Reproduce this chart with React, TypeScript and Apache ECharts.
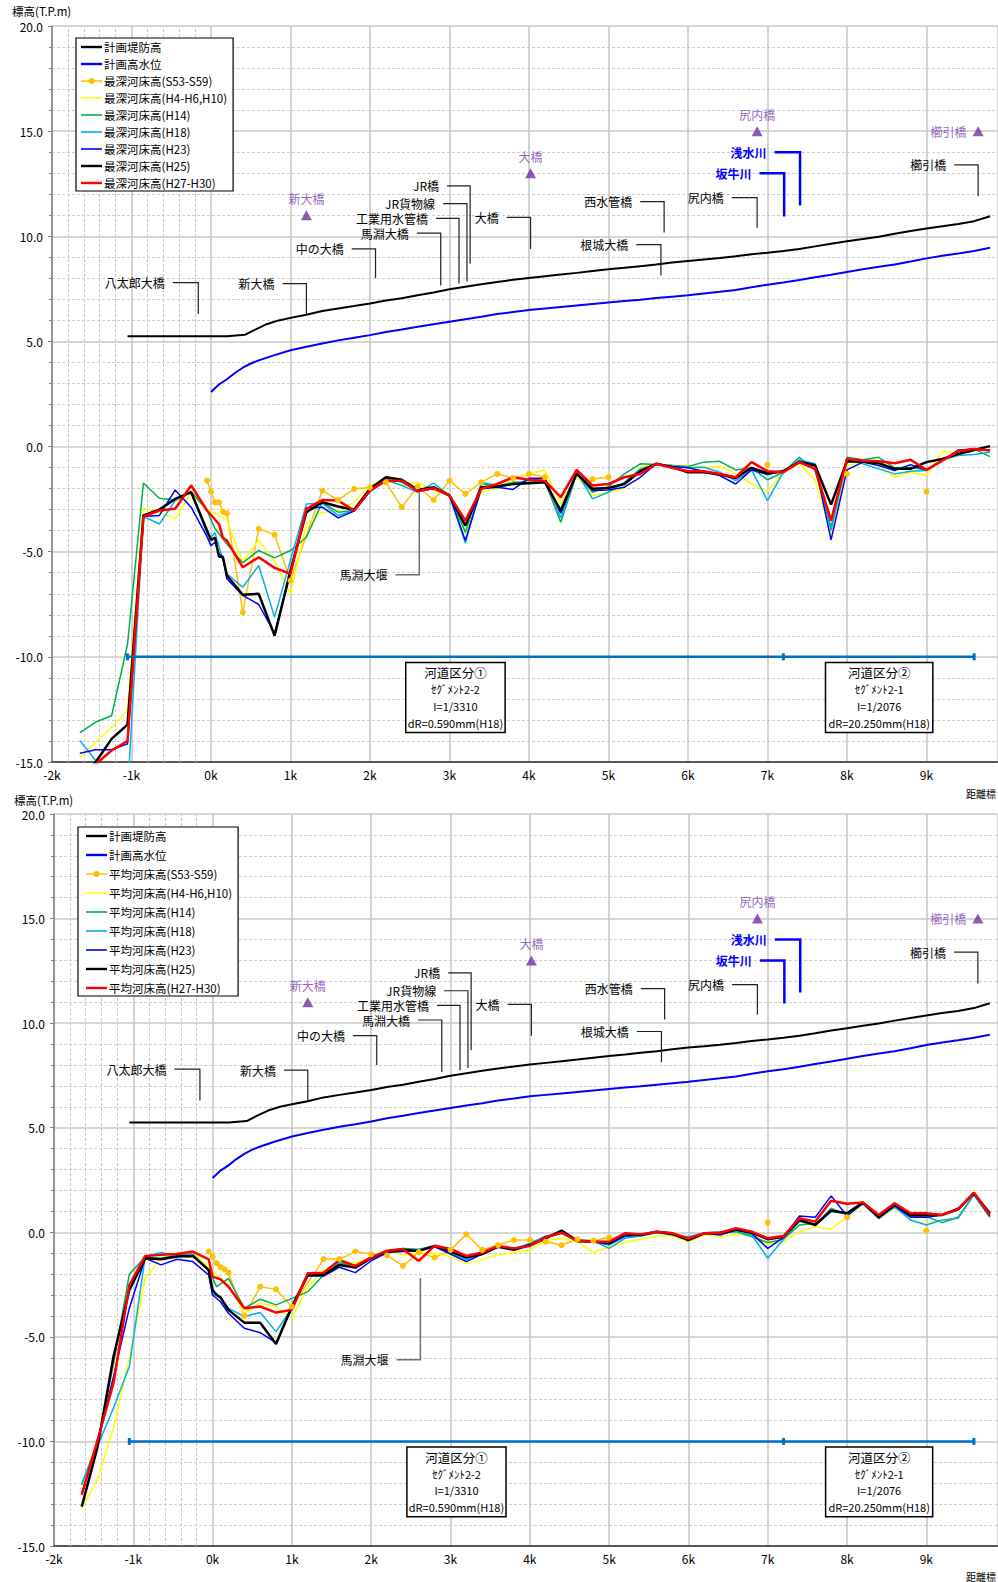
import React, { useEffect, useRef } from 'react';
import * as echarts from 'echarts';

// Cross-section chainage (km) shared by the bed profiles
const DIST = [-1.65, -1.45, -1.25, -1.05, -0.85, -0.65, -0.45, -0.25, -0.05, 0, 0.05, 0.1, 0.15, 0.2, 0.4, 0.6, 0.8, 1.0, 1.2, 1.4, 1.6, 1.8, 2.0, 2.2, 2.4, 2.6, 2.8, 3.0, 3.2, 3.4, 3.6, 3.8, 4.0, 4.2, 4.4, 4.6, 4.8, 5.0, 5.2, 5.4, 5.6, 5.8, 6.0, 6.2, 6.4, 6.6, 6.8, 7.0, 7.2, 7.4, 7.6, 7.8, 8.0, 8.2, 8.4, 8.6, 8.8, 9.0, 9.2, 9.4, 9.6, 9.8];

// Planned levee crown height
const LEVEE_X = [-1.05, -0.8, -0.6, -0.4, -0.2, 0, 0.2, 0.43, 0.55, 0.7, 0.85, 1.0, 1.2, 1.4, 1.6, 1.8, 2.0, 2.2, 2.4, 2.6, 2.8, 3.0, 3.2, 3.4, 3.6, 3.8, 4.0, 4.2, 4.4, 4.6, 4.8, 5.0, 5.2, 5.4, 5.6, 5.8, 6.0, 6.2, 6.4, 6.6, 6.8, 7.0, 7.2, 7.4, 7.6, 7.8, 8.0, 8.2, 8.4, 8.6, 8.8, 9.0, 9.2, 9.4, 9.6, 9.8];
const LEVEE_Y = [5.25, 5.25, 5.25, 5.25, 5.25, 5.25, 5.25, 5.32, 5.55, 5.82, 6.0, 6.12, 6.27, 6.45, 6.57, 6.68, 6.8, 6.95, 7.05, 7.2, 7.33, 7.48, 7.6, 7.72, 7.83, 7.93, 8.02, 8.1, 8.18, 8.26, 8.35, 8.43, 8.5, 8.58, 8.66, 8.75, 8.83, 8.9, 8.97, 9.05, 9.15, 9.22, 9.3, 9.4, 9.52, 9.65, 9.76, 9.87, 9.98, 10.12, 10.25, 10.37, 10.48, 10.58, 10.72, 10.95];

// Planned high water level
const HWL_X = [0, 0.1, 0.2, 0.3, 0.4, 0.5, 0.6, 0.8, 1.0, 1.2, 1.4, 1.6, 1.8, 2.0, 2.2, 2.4, 2.6, 2.8, 3.0, 3.2, 3.4, 3.6, 3.8, 4.0, 4.2, 4.4, 4.6, 4.8, 5.0, 5.2, 5.4, 5.6, 5.8, 6.0, 6.2, 6.4, 6.6, 6.8, 7.0, 7.2, 7.4, 7.6, 7.8, 8.0, 8.2, 8.4, 8.6, 8.8, 9.0, 9.2, 9.4, 9.6, 9.8];
const HWL_Y = [2.6, 2.95, 3.2, 3.5, 3.75, 3.95, 4.1, 4.35, 4.58, 4.75, 4.9, 5.05, 5.17, 5.3, 5.45, 5.57, 5.7, 5.82, 5.94, 6.06, 6.17, 6.3, 6.4, 6.5, 6.57, 6.64, 6.71, 6.78, 6.85, 6.92, 6.98, 7.06, 7.13, 7.2, 7.28, 7.36, 7.45, 7.58, 7.7, 7.8, 7.92, 8.05, 8.17, 8.3, 8.43, 8.55, 8.66, 8.8, 8.95, 9.07, 9.18, 9.3, 9.45];

// S53-S59 survey (own chainage, gaps as null)
const S53_X = [-0.05, 0, 0.05, 0.1, 0.15, 0.2, 0.4, 0.6, 0.8, 1.0, 1.4, 1.6, 1.8, 2.0, 2.2, 2.4, 2.6, 2.8, 3.0, 3.2, 3.4, 3.6, 3.8, 4.0, 4.2, 4.4, 4.6, 4.8, 5.0, 5.2, 7.0, 7.2, 8.0, 8.2, 9.0];
const DEEP_S53 = [-1.62, -2.14, -2.65, -2.65, -3.09, -3.17, -7.88, -3.91, -4.2, -6.37, -2.09, -2.55, -2.01, -1.95, -1.7, -2.88, -1.9, -2.54, -1.62, -2.25, -1.7, -1.3, -1.5, -1.3, -1.45, null, null, -1.55, -1.45, null, -0.87, null, -1.3, null, -2.14];
const MEAN_S53 = [-0.92, -1.16, -1.48, -1.67, -1.77, -1.93, -4.0, -2.6, -2.73, -3.55, -1.28, -1.28, -0.92, -1.05, -1.1, -1.61, -0.95, -1.21, -0.84, -0.1, -0.84, -0.61, -0.37, -0.37, -0.45, -0.61, -0.33, -0.4, -0.24, null, 0.46, null, 0.72, null, 0.08];

// Deepest bed elevation (values aligned with DIST)
const DEEP_H4 = [
  -14.77, -14.06, -13.35, -12.55, -2.93, -3.12, -3.44, -2.17, -2.96, null,
  null, null, null, -3.5, -5.5, -4.45, -5.45, -7.0, -3.68, -3.12,
  -3.04, -2.65, -1.85, -1.62, -1.85, -1.7, -2.09, -2.33, -4.15, -2.17,
  -2.0, -1.54, -1.3, -1.11, -2.73, -1.43, -2.33, -2.17, -2.01, -0.98,
  -0.82, -0.9, -0.9, -0.98, -0.95, -1.3, -1.78, -2.12, -1.22, -0.82,
  -1.62, -4.15, -0.9, -0.74, -0.9, -1.46, -1.22, -1.38, -0.22, -0.32,
  -0.11, -0.19];
const DEEP_H14 = [
  -13.6, -13.1, -12.8, -9.4, -1.73, -2.46, -2.54, -2.14, -3.04, null,
  -3.9, null, null, -4.63, -5.53, -4.94, -5.29, -4.94, -4.31, -2.65,
  -3.12, -3.04, -2.09, -1.5, -1.7, -2.09, -1.93, -2.28, -4.07, -1.77,
  -1.9, -1.7, -1.7, -1.65, -3.6, -1.3, -2.17, -1.9, -1.3, -0.82,
  -0.85, -0.9, -0.95, -0.74, -0.7, -1.11, -1.01, -1.58, -1.22, -0.51,
  -1.14, -3.84, -0.51, -0.63, -0.51, -1.01, -0.98, -1.11, -0.63, -0.38,
  -0.11, -0.48];
const DEEP_H18 = [
  -13.98, -14.93, -15.6, -16.5, -3.32, -3.68, -2.57, -2.17, -4.15, -4.3,
  -4.1, null, null, -6.05, -6.69, -5.66, -8.11, -5.4, -2.73, -2.69,
  -3.28, -3.04, -2.09, -1.58, -1.85, -2.17, -1.74, -2.33, -4.6, -1.7,
  -1.85, -1.78, -1.58, -1.51, -3.39, -1.22, -2.49, -2.17, -1.7, -1.06,
  -0.85, -0.9, -1.01, -0.98, -1.22, -1.62, -1.11, -2.57, -1.22, -0.63,
  -0.82, -3.99, -0.63, -0.82, -1.06, -1.3, -1.17, -1.14, -0.63, -0.43,
  -0.38, -0.27];
const DEEP_H23 = [
  -14.58, -14.42, -14.42, -14.14, -3.33, -3.28, -2.06, -2.88, -4.28, -4.71,
  -4.55, -5.1, -5.23, -6.29, -7.08, -7.51, -8.87, -6.0, -2.92, -2.88,
  -3.39, -3.07, -2.14, -1.62, -1.62, -2.12, -2.01, -2.33, -4.47, -2.01,
  -1.93, -2.04, -1.51, -1.51, -3.17, -1.3, -2.09, -2.06, -1.93, -1.46,
  -0.82, -0.95, -1.01, -1.17, -1.38, -1.78, -1.11, -1.33, -1.17, -0.7,
  -0.86, -4.44, -1.11, -0.74, -0.9, -1.14, -0.86, -1.11, -0.67, -0.16,
  -0.11, -0.16];
const DEEP_H25 = [
  -15.8, -15.0, -13.9, -13.22, -3.28, -3.0, -2.49, -2.17, -3.99, -4.44,
  -4.34, -5.23, -5.26, -6.13, -7.05, -7.0, -8.99, -5.9, -3.12, -2.65,
  -2.85, -3.01, -2.01, -1.46, -1.58, -2.06, -1.93, -2.33, -3.76, -1.93,
  -1.9, -1.78, -1.74, -1.7, -3.04, -1.27, -2.01, -1.97, -1.78, -1.17,
  -0.82, -0.98, -1.22, -1.22, -1.33, -1.49, -1.01, -1.27, -1.17, -0.74,
  -0.9, -2.76, -0.7, -0.71, -0.79, -1.06, -1.06, -0.74, -0.59, -0.35,
  -0.16, 0.02];
const DEEP_H27 = [
  -15.8, -15.1, -14.45, -14.0, -3.33, -3.04, -2.96, -1.85, -3.04, null,
  null, -3.68, -4.34, -4.47, -5.74, -5.26, -5.77, -6.05, -2.96, -2.54,
  -2.57, -3.04, -2.09, -1.62, -1.62, -2.12, -1.97, -2.33, -3.52, -2.01,
  -1.78, -1.46, -1.58, -1.62, -2.41, -1.11, -1.85, -1.78, -1.46, -1.3,
  -0.82, -1.01, -1.17, -1.17, -1.3, -1.46, -0.74, -1.17, -1.22, -0.74,
  -1.06, -3.52, -0.59, -0.67, -0.7, -0.79, -0.63, -1.11, -0.67, -0.22,
  -0.11, -0.19];

// Mean bed elevation (values aligned with DIST)
const MEAN_H4 = [
  -13.2, -11.8, -9.37, -6.0, -2.2, -1.24, -1.08, -0.92, -1.67, null,
  null, null, null, -2.52, -3.87, -3.39, -3.55, -4.11, -2.6, -1.8,
  -1.56, -1.45, -1.24, -0.92, -1.08, -1.04, -1.0, -1.16, -1.51, -1.29,
  -1.08, -0.97, -0.84, -0.4, -0.29, -0.45, -0.96, -0.69, -0.49, -0.33,
  -0.18, -0.18, -0.45, -0.13, -0.21, -0.1, -0.13, -0.56, -0.45, 0.03,
  0.27, 0.14, 0.72, 1.36, 0.62, 1.15, 0.59, 0.4, 0.56, 0.67,
  1.83, 0.75];
const MEAN_H14 = [
  -12.08, -10.0, -6.3, -2.0, -1.2, -1.24, -1.08, -1.04, -1.8, null,
  -2.6, null, null, -2.2, -3.63, -3.2, -3.47, -3.16, -2.84, -2.04,
  -1.45, -1.67, -1.2, -0.88, -0.77, -0.81, -0.65, -0.92, -1.29, -1.0,
  -0.65, -0.81, -0.61, -0.24, -0.05, -0.4, -0.45, -0.61, -0.21, -0.13,
  0.03, -0.02, -0.33, -0.05, -0.02, 0.03, -0.21, -0.49, -0.33, 0.35,
  0.43, 0.99, 0.88, 1.39, 0.72, 1.2, 0.75, 0.75, 0.46, 0.72,
  1.79, 0.72];
const MEAN_H18 = [
  -12.0, -10.2, -8.4, -6.42, -1.16, -0.97, -1.13, -1.08, -1.83, -3.0,
  -2.92, null, null, -3.63, -4.03, -3.84, -4.75, -3.63, -1.96, -1.93,
  -1.4, -1.61, -1.2, -0.88, -0.88, -0.84, -0.65, -0.97, -1.32, -0.97,
  -0.65, -0.77, -0.53, -0.18, -0.05, -0.37, -0.4, -0.77, -0.29, -0.18,
  -0.02, -0.13, -0.21, -0.02, 0.03, 0.08, -0.13, -1.24, -0.33, 0.51,
  0.35, 1.15, 0.83, 1.36, 0.67, 1.23, 0.59, 0.35, 0.59, 0.67,
  1.79, 0.75];
const MEAN_H23 = [
  -12.5, -10.0, -6.9, -3.63, -1.24, -1.56, -1.29, -1.4, -2.04, -3.0,
  null, -3.32, null, -3.87, -4.59, -4.8, -5.28, -3.63, -2.09, -2.09,
  -1.67, -1.93, -1.36, -0.97, -0.92, -0.89, -0.69, -1.04, -1.4, -1.04,
  -0.69, -0.77, -0.65, -0.21, -0.02, -0.45, -0.45, -0.56, -0.18, -0.13,
  0.03, -0.08, -0.33, -0.05, -0.13, 0.11, -0.05, -0.77, -0.24, 0.78,
  0.72, 1.74, 0.78, 1.39, 0.67, 1.26, 0.72, 0.72, 0.83, 1.15,
  1.87, 0.78];
const MEAN_H25 = [
  -13.12, -10.25, -5.95, -2.76, -1.24, -1.29, -1.16, -1.13, -1.8, -2.76,
  -3.0, -3.11, null, -3.71, -4.32, -4.32, -5.34, -3.55, -2.04, -2.04,
  -1.56, -1.69, -1.24, -0.92, -0.84, -0.89, -0.65, -0.92, -1.2, -1.04,
  -0.69, -0.84, -0.61, -0.29, 0.08, -0.41, -0.45, -0.49, -0.08, -0.13,
  0.03, -0.08, -0.37, -0.05, -0.05, 0.14, -0.02, -0.33, -0.21, 0.59,
  0.35, 1.04, 0.91, 1.42, 0.75, 1.36, 0.83, 0.83, 0.83, 1.1,
  1.87, 0.91];
const MEAN_H27 = [
  -12.56, -9.93, -7.22, -2.52, -1.13, -1.08, -1.04, -0.92, -1.29, -2.12,
  null, -2.25, null, -2.6, -3.63, -3.55, -3.84, -3.71, -1.96, -1.93,
  -1.32, -1.61, -1.2, -0.88, -0.8, -1.37, -0.64, -0.8, -1.13, -0.97,
  -0.65, -0.77, -0.65, -0.24, -0.02, -0.41, -0.45, -0.45, -0.05, -0.1,
  0.03, -0.05, -0.29, -0.05, -0.02, 0.19, 0.03, -0.29, -0.18, 0.67,
  0.51, 1.51, 1.36, 1.42, 0.83, 1.39, 0.91, 0.91, 0.83, 1.1,
  1.9, 0.83];

const PERIODS = ['(S53-S59)', '(H4-H6,H10)', '(H14)', '(H18)', '(H23)', '(H25)', '(H27-H30)'];

// Extra dashed verticals between -2k and 0k
const MINOR_X = [-1.8, -1.6, -1.4, -1.2, -0.8, -0.6, -0.4, -0.2];

// River segment division line
const SEGMENT_X = [-1.05, 7.2, 9.6];
const SEGMENT_LEVEL = -10;
const BOX_X1 = [2.45, 7.73];
const BOX_X2 = [3.7, 9.08];
const BOX_TOP = -10.27;
const BOX_BOTTOM = -13.6;
const BOX_TEXT = [
  ['河道区分①', 'ｾｸﾞﾒﾝﾄ2-2', 'I=1/3310', 'dR=0.590mm(H18)'],
  ['河道区分②', 'ｾｸﾞﾒﾝﾄ2-1', 'I=1/2076', 'dR=20.250mm(H18)'],
];

// Structure call-outs: label, leader start x, corner x, label level, leader end level
const ANNOT_NAMES = ['八太郎大橋', '新大橋', '中の大橋', '馬淵大橋', '工業用水管橋', 'JR貨物線', 'JR橋', '大橋', '西水管橋', '根城大橋', '尻内橋', '坂牛川', '浅水川', '櫛引橋', '馬淵大堰'];
const ANNOT_X0 = [-0.48, 0.9, 1.77, 2.59, 2.83, 2.92, 2.97, 3.72, 5.4, 5.35, 6.55, 6.9, 7.09, 9.35, 2.32];
const ANNOT_X1 = [-0.16, 1.2, 2.07, 2.89, 3.12, 3.22, 3.26, 4.02, 5.7, 5.66, 6.87, 7.21, 7.41, 9.65, 2.62];
const ANNOT_Y = [7.8, 7.75, 9.4, 10.15, 10.85, 11.55, 12.4, 10.9, 11.65, 9.6, 11.84, 13.0, 14.0, 13.4, -6.09];
const ANNOT_Y_END = [6.3, 6.28, 8.0, 7.66, 7.75, 7.85, 8.7, 9.4, 10.18, 8.13, 10.4, 10.94, 11.46, 11.9, -2.19];
const ANNOT_KIND = ['b', 'b', 'b', 'b', 'b', 'b', 'b', 'b', 'b', 'b', 'b', 'r', 'r', 'b', 'w'];

// Bridge markers
const LANDMARK_NAMES = ['新大橋', '大橋', '尻内橋', '櫛引橋'];
const LANDMARK_X = [1.2, 4.02, 6.87, 9.65];
const LANDMARK_Y = [11, 13, 15, 15];
const LANDMARK_LABEL_POS = ['top', 'top', 'top', 'left'];

const FONT = '"Noto Sans CJK JP", "Noto Sans", sans-serif';
const BED_COLORS = ['#FFC000', '#FFFF00', '#00B050', '#00B0F0', '#0000FF', '#000000', '#FF0000'];
const BED_WIDTHS = [1.5, 1.5, 1.5, 1.5, 1.5, 2.5, 2.5];

// Legend glyphs: plain stroke, heavy stroke, stroke with a dot
const ICON_THIN = 'path://M0,0H21V1.6H0Z';
const ICON_THICK = 'path://M0,0H21V2.4H0Z';
const ICON_DOT = 'path://M0,2.2H21V3.8H0Z M7.5,3A3,3 0 1 1 13.5,3A3,3 0 1 1 7.5,3Z';

const pairs = (xs: number[], ys: (number | null)[]) =>
  xs.map((x, i) => [x, ys[i]]).filter((p) => p[1] !== null);
const gapped = (xs: number[], ys: (number | null)[]) =>
  xs.map((x, i) => [x, ys[i] === null ? '-' : ys[i]]);

function panelSeries(k: number, prefix: string, s53: (number | null)[], profiles: (number | null)[][]) {
  const axes = { xAxisIndex: k, yAxisIndex: k };
  const list: any[] = [];
  list.push({
    type: 'line', name: '計画堤防高', ...axes, data: pairs(LEVEE_X, LEVEE_Y), symbol: 'none',
    lineStyle: { color: '#000', width: 2 }, itemStyle: { color: '#000' }, z: 3,
    markLine: {
      silent: true, z: 1, symbol: ['none', 'none'], label: { show: false },
      lineStyle: { color: '#C8C8C8', type: [3, 2], width: 1 },
      emphasis: { disabled: true },
      data: MINOR_X.map((x) => ({ xAxis: x })),
    },
  });
  list.push({
    type: 'line', name: '計画高水位', ...axes, data: pairs(HWL_X, HWL_Y), symbol: 'none',
    lineStyle: { color: '#0000FF', width: 2 }, itemStyle: { color: '#0000FF' }, z: 3,
  });
  list.push({
    type: 'line', name: prefix + PERIODS[0], ...axes, data: gapped(S53_X, s53),
    symbol: 'circle', symbolSize: 6, showSymbol: true, connectNulls: false,
    lineStyle: { color: BED_COLORS[0], width: 1.5 }, itemStyle: { color: BED_COLORS[0] }, z: 3,
  });
  profiles.forEach((ys, j) => {
    list.push({
      type: 'line', name: prefix + PERIODS[j + 1], ...axes, data: pairs(DIST, ys), symbol: 'none',
      lineStyle: { color: BED_COLORS[j + 1], width: BED_WIDTHS[j + 1] },
      itemStyle: { color: BED_COLORS[j + 1] }, z: 3,
    });
  });
  list.push({
    type: 'line', name: '河道区分', ...axes, data: SEGMENT_X.map((x) => [x, SEGMENT_LEVEL]),
    symbol: 'rect', symbolSize: [3, 7], showSymbol: true,
    lineStyle: { color: '#0070C0', width: 2.5 }, itemStyle: { color: '#0070C0' }, z: 3,
  });
  list.push({
    type: 'custom', ...axes, silent: true, clip: false, z: 4,
    encode: { x: [0, 1], y: [2, 3] },
    data: ANNOT_NAMES.map((_, i) => [ANNOT_X0[i], ANNOT_X1[i], ANNOT_Y[i], ANNOT_Y_END[i], i]),
    renderItem: (_p: any, api: any) => {
      const i = api.value(4);
      const a = api.coord([api.value(0), api.value(2)]);
      const b = api.coord([api.value(1), api.value(2)]);
      const c = api.coord([api.value(1), api.value(3)]);
      const kind = ANNOT_KIND[i];
      const stroke = kind === 'r' ? '#0000FF' : kind === 'w' ? '#6E6E6E' : '#202020';
      const lw = kind === 'r' ? 2.5 : kind === 'w' ? 1.5 : 1.2;
      return {
        type: 'group',
        children: [
          { type: 'polyline', shape: { points: [a, b, c] }, style: { stroke, lineWidth: lw, fill: null } },
          {
            type: 'text', x: a[0] - 8, y: a[1],
            style: {
              text: ANNOT_NAMES[i], align: 'right', verticalAlign: 'middle',
              fill: kind === 'r' ? '#0000FF' : '#000',
              font: `${kind === 'r' ? 'bold ' : ''}12px ${FONT}`,
            },
          },
        ],
      };
    },
  });
  list.push({
    type: 'custom', ...axes, silent: true, clip: false, z: 4,
    encode: { x: [0, 1], y: [2, 3] },
    data: BOX_X1.map((x, i) => [x, BOX_X2[i], BOX_TOP, BOX_BOTTOM, i]),
    renderItem: (_p: any, api: any) => {
      const i = api.value(4);
      const tl = api.coord([api.value(0), api.value(2)]);
      const br = api.coord([api.value(1), api.value(3)]);
      const w = br[0] - tl[0];
      const h = br[1] - tl[1];
      const rows = [0.145, 0.385, 0.615, 0.86];
      return {
        type: 'group',
        children: [
          { type: 'rect', shape: { x: tl[0], y: tl[1], width: w, height: h }, style: { fill: '#fff', stroke: '#000', lineWidth: 1.5 } },
          ...BOX_TEXT[i].map((t, r) => ({
            type: 'text', x: tl[0] + w / 2, y: tl[1] + h * rows[r],
            style: { text: t, align: 'center', verticalAlign: 'middle', fill: '#000', font: `${r === 0 ? 12.5 : 11}px ${FONT}` },
          })),
        ],
      };
    },
  });
  list.push({
    type: 'scatter', ...axes, silent: true, z: 4,
    symbol: 'triangle', symbolSize: [11, 10],
    itemStyle: { color: '#7030A0' },
    label: { show: true, formatter: '{b}', color: '#7B3BAF', fontSize: 12, distance: 6, fontFamily: FONT },
    data: LANDMARK_NAMES.map((n, i) => ({
      name: n, value: [LANDMARK_X[i], LANDMARK_Y[i]], label: { position: LANDMARK_LABEL_POS[i] },
    })),
  });
  return list;
}

function axisPair(k: number) {
  const x = {
    type: 'value', gridIndex: k, min: -2, max: 9.9, interval: 1,
    axisLine: { onZero: false, lineStyle: { color: '#595959', width: 2 } },
    axisTick: { show: false },
    axisLabel: {
      formatter: (v: number) => `${v}k`, color: '#000', fontSize: 12, margin: 6,
      showMaxLabel: false, fontFamily: FONT,
    },
    splitLine: { show: true, lineStyle: { color: '#C4C4C4', width: 1.5 } },
  };
  const y = {
    type: 'value', gridIndex: k, min: -15, max: 20, interval: 5,
    axisLine: { show: true, onZero: false, lineStyle: { color: '#808080', width: 1.5 } },
    axisTick: { show: true, length: 4, lineStyle: { color: '#808080' } },
    minorTick: { show: true, splitNumber: 5, length: 3, lineStyle: { color: '#808080' } },
    axisLabel: { formatter: (v: number) => v.toFixed(1), color: '#000', fontSize: 12, margin: 9, fontFamily: FONT },
    splitLine: { show: true, lineStyle: { color: '#C8C8C8', width: 1.5 } },
    minorSplitLine: { show: true, lineStyle: { color: '#CFCFCF', type: [3, 2], width: 1 } },
  };
  return { x, y };
}

function legendFor(prefix: string, left: number, top: number, gap: number, padLeft: number) {
  const names = ['計画堤防高', '計画高水位', ...PERIODS.map((p) => prefix + p)];
  const icons = [ICON_THICK, ICON_THICK, ICON_DOT, ICON_THIN, ICON_THIN, ICON_THIN, ICON_THIN, ICON_THICK, ICON_THICK];
  return {
    show: true, orient: 'vertical', left, top, selectedMode: false,
    data: names.map((name, i) => ({ name, icon: icons[i] })),
    symbolKeepAspect: true,
    itemWidth: 21, itemHeight: 10, itemGap: gap,
    padding: [3, 6, 2, padLeft],
    backgroundColor: '#fff', borderColor: '#000', borderWidth: 1.2,
    textStyle: { fontSize: 11.5, color: '#000', lineHeight: 12, fontFamily: FONT, padding: [0, 0, 0, -3] },
  };
}

export default function App() {
  const ref = useRef<HTMLDivElement>(null);
  useEffect(() => {
    if (!ref.current) return;
    const chart = echarts.init(ref.current, undefined, { renderer: 'svg' });
    const a0 = axisPair(0);
    const a1 = axisPair(1);
    chart.setOption({
      animation: false,
      backgroundColor: '#fff',
      textStyle: { fontFamily: FONT },
      grid: [
        { left: 52, top: 26, width: 949.6, height: 736 },
        { left: 54, top: 814, width: 943.7, height: 732 },
      ],
      xAxis: [a0.x, a1.x],
      yAxis: [a0.y, a1.y],
      legend: [
        legendFor('最深河床高', 76, 38, 5, 5),
        legendFor('平均河床高', 78, 827, 7, 8),
      ],
      graphic: [
        { type: 'text', left: 12, top: 5, style: { text: '標高(T.P.m)', font: `11.5px ${FONT}`, fill: '#000' } },
        { type: 'text', left: 14, top: 794, style: { text: '標高(T.P.m)', font: `11.5px ${FONT}`, fill: '#000' } },
        { type: 'text', right: 2, top: 788, style: { text: '距離標', font: `10px ${FONT}`, fill: '#000' } },
        { type: 'text', right: 2, top: 1571, style: { text: '距離標', font: `10px ${FONT}`, fill: '#000' } },
      ],
      series: [
        ...panelSeries(0, '最深河床高', DEEP_S53, [DEEP_H4, DEEP_H14, DEEP_H18, DEEP_H23, DEEP_H25, DEEP_H27]),
        ...panelSeries(1, '平均河床高', MEAN_S53, [MEAN_H4, MEAN_H14, MEAN_H18, MEAN_H23, MEAN_H25, MEAN_H27]),
      ],
    });
    return () => chart.dispose();
  }, []);
  return (
    <div
      ref={ref}
      style={{ position: 'absolute', left: 0, top: 0, width: 998, height: 1582, overflow: 'hidden', background: '#fff' }}
    />
  );
}
